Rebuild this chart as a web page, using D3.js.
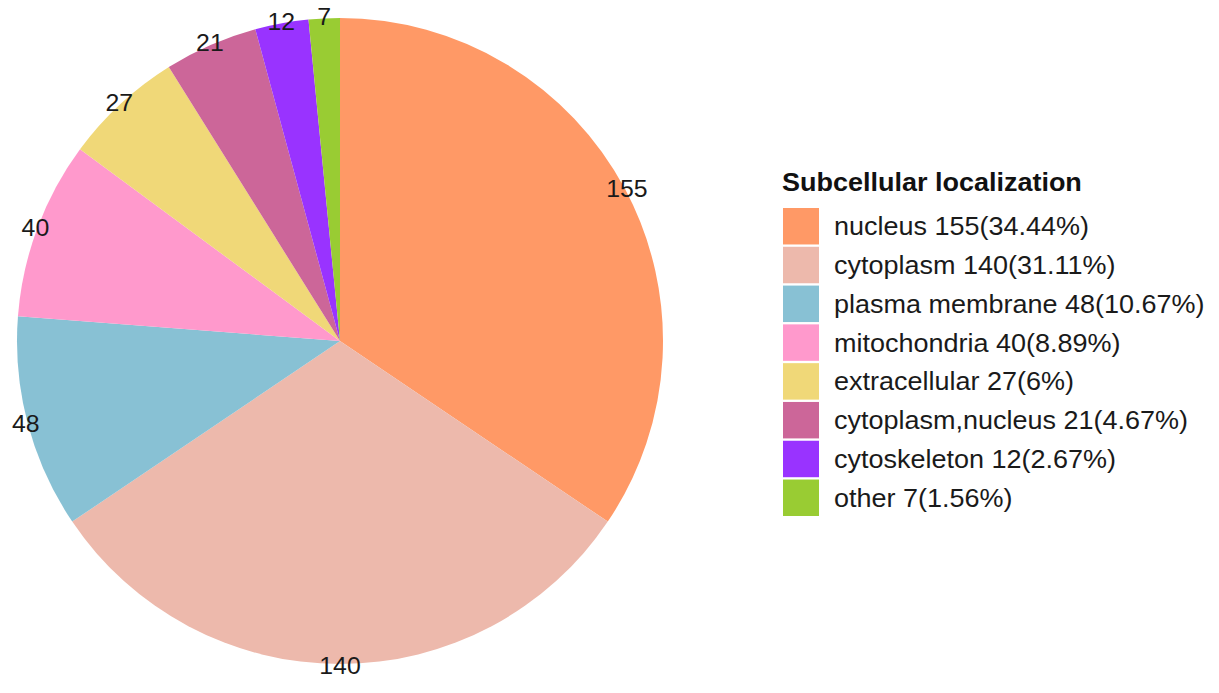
<!DOCTYPE html>
<html>
<head>
<meta charset="utf-8">
<script src="https://cdn.jsdelivr.net/npm/d3@7"></script>
<style>
  body { margin: 0; background: #fff; }
  svg { font-family: "Liberation Sans", Arial, sans-serif; }
</style>
</head>
<body>
<svg id="chart" width="1219" height="693"></svg>
<script>
// data
const categories = ["nucleus", "cytoplasm", "plasma membrane", "mitochondria",
  "extracellular", "cytoplasm,nucleus", "cytoskeleton", "other"];
const counts = [155, 140, 48, 40, 27, 21, 12, 7];
const percents = ["34.44%", "31.11%", "10.67%", "8.89%", "6%", "4.67%", "2.67%", "1.56%"];
const colors = ["#FF9966", "#EDB9AC", "#88C1D4", "#FF99CC", "#F0D878", "#CC6699", "#9933FF", "#99CC33"];

let data = categories.map((c, i) => ({ name: c, value: counts[i], pct: percents[i] }));

let svg = d3.select('#chart');
let cx = 340, cy = 341, radius = 323;
let sx = 1.08; // the text in the picture is a little wide

let color = d3.scaleOrdinal().domain(categories).range(colors);

let pie = d3.pie().sort(null).value(d => d.value);
let arc = d3.arc().innerRadius(0).outerRadius(radius);
let labelArc = d3.arc().innerRadius(radius + 2).outerRadius(radius + 2);

const g = svg.append("g").attr("transform", `translate(${cx},${cy})`);

g.selectAll("path")
  .data(pie(data))
  .join("path")
  .attr("fill", d => color(d.data.name))
  .attr("d", arc);

g.selectAll("text")
  .data(pie(data))
  .join("text")
  .attr("transform", d => `translate(${labelArc.centroid(d)}) scale(${sx},1)`)
  .attr("text-anchor", "middle")
  .attr("dy", "0.36em")
  .attr("font-size", 23)
  .attr("fill", "#1a1a1a")
  .text(d => d.data.value);

// legend
const legend = svg.append("g").attr("transform", "translate(782,0)");
legend.append("text")
  .attr("transform", `translate(0,191) scale(${sx},1)`)
  .attr("font-size", 25)
  .attr("font-weight", "bold")
  .attr("fill", "#111")
  .text("Subcellular localization");

let ly = d3.scaleBand().domain(categories).range([208, 516]).paddingInner(0.06);

const item = legend.selectAll("g.item")
  .data(data)
  .join("g")
  .attr("class", "item")
  .attr("transform", d => `translate(0,${ly(d.name)})`);

item.append("rect")
  .attr("x", 1).attr("width", 36).attr("height", ly.bandwidth())
  .attr("fill", d => color(d.name));

item.append("text")
  .attr("transform", `translate(52,${ly.bandwidth() / 2}) scale(${sx},1)`)
  .attr("dy", "0.36em")
  .attr("font-size", 25)
  .attr("fill", "#1a1a1a")
  .text(d => `${d.name} ${d.value}(${d.pct})`);
</script>
</body>
</html>
